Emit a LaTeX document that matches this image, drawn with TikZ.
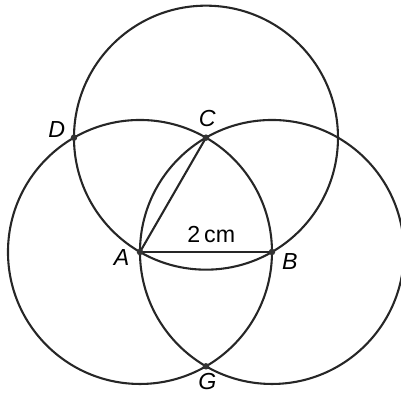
\documentclass[tikz,border=0pt]{standalone}
\usepackage{fontspec}
\setmainfont{Liberation Sans}
\usepackage{xcolor}
\usepackage{tikz}

\begin{document}
\begin{tikzpicture}
\useasboundingbox (-2.121,-2.197) rectangle (3.955,3.818);
\coordinate (A) at (0,0);
\coordinate (B) at (2,0);
\coordinate (C) at (1,1.732);
\coordinate (D) at (-1,1.732);
\coordinate (G) at (1,-1.732);
\draw[line width=0.9pt, black!85] (A) circle (2);
\draw[line width=0.9pt, black!85] (B) circle (2);
\draw[line width=0.9pt, black!85] (C) circle (2);
\draw[line width=0.9pt, black!85] (A) -- (B);
\draw[line width=0.9pt, black!85] (A) -- (C);
\fill[black!80] (A) circle (1.4pt);
\fill[black!80] (B) circle (1.4pt);
\fill[black!80] (C) circle (1.4pt);
\fill[black!80] (D) circle (1.4pt);
\fill[black!80] (G) circle (1.4pt);
\node (labA) at (-0.28,-0.08) {\itshape A};
\node (labB) at (2.27,-0.15) {\itshape B};
\node (labC) at (1.02,2.02) {\itshape C};
\node (labD) at (-1.26,1.85) {\itshape D};
\node (labG) at (1.02,-1.97) {\itshape G};
\node (len) at (1.08,0.26) {2\,cm};
\end{tikzpicture}
\end{document}
